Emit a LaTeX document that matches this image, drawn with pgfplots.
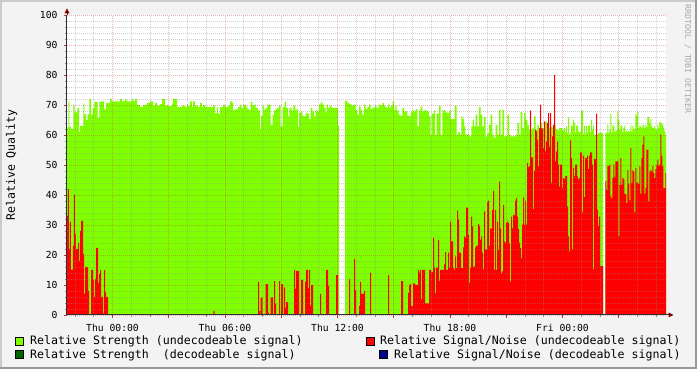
\documentclass[border=0pt]{standalone}
\usepackage{fontspec}
\setmainfont{DejaVu Sans Mono}
\usepackage{pgfplots}
\pgfplotsset{compat=1.18}
\definecolor{bgc}{HTML}{F3F3F3}
\definecolor{shadea}{HTML}{CBCBCB}
\definecolor{shadeb}{HTML}{999999}
\definecolor{sgreen}{HTML}{80FF00}
\definecolor{sdgreen}{HTML}{006400}
\definecolor{sred}{HTML}{FF0000}
\definecolor{sblue}{HTML}{000090}
\definecolor{gridc}{HTML}{8C8C8C}
\definecolor{mgridc}{HTML}{C03030}
\definecolor{axisc}{HTML}{303038}
\definecolor{arrowc}{HTML}{800000}
\definecolor{wmc}{HTML}{A8A8A8}
\newcommand\legfont{\fontsize{11.6}{12}\selectfont}
\begin{document}
\begin{tikzpicture}
\fill[bgc] (0pt,0pt) rectangle (697pt,369pt);
\fill[shadea] (0pt,367pt) rectangle (697pt,369pt);
\fill[shadea] (0pt,0pt) rectangle (2pt,369pt);
\fill[shadeb] (0pt,0pt) rectangle (697pt,2pt);
\fill[shadeb] (695pt,0pt) rectangle (697pt,369pt);
\begin{axis}[
  at={(67pt,54pt)}, anchor=south west, scale only axis,
  width=599pt, height=300pt,
  xmin=67, xmax=666, ymin=0, ymax=100,
  axis background/.style={fill=white},
  axis on top,
  axis x line*=bottom, axis y line*=left,
  axis line style={draw=axisc, line width=1pt},
  tick align=outside,
  major tick length=3pt, minor tick length=2pt,
  xtick={112.5,168.75,225,281.25,337.5,393.75,450,506.25,562.5,618.75},
  xticklabels={{Thu 00:00},{},{Thu 06:00},{},{Thu 12:00},{},{Thu 18:00},{},{Fri 00:00},{}},
  minor xtick={75,93.75,131.25,150,187.5,206.25,243.75,262.5,300,318.75,356.25,375,412.5,431.25,468.75,487.5,525,543.75,581.25,600,637.5,656.25},
  ytick={0,10,...,100},
  minor ytick={2,4,6,8,12,14,16,18,22,24,26,28,32,34,36,38,42,44,46,48,52,54,56,58,62,64,66,68,72,74,76,78,82,84,86,88,92,94,96,98},
  grid=both,
  major grid style={draw=mgridc, draw opacity=0.35, line width=0.75pt, dash pattern=on 1pt off 1pt},
  minor grid style={draw=gridc, draw opacity=0.4, line width=0.75pt, dash pattern=on 1pt off 1pt},
  major tick style={draw=mgridc, line width=0.8pt},
  minor tick style={draw=gridc, line width=0.8pt},
  tick label style={font=\fontsize{9.7}{10}\selectfont, text=black},
  /pgf/number format/assume math mode=true,
  xticklabel style={yshift=-3pt},
  yticklabel style={xshift=-3pt},
]
% Relative Strength (undecodeable) - green
\addplot[fill=sgreen, draw=none, const plot] coordinates {
(67,62.5) (68.3,71.2) (69.3,62.8) (71,62) (73.3,70) (74.7,67.5) (77.3,69) (79,61) (80,63) (83.3,70.4) (84.3,66.9) (86,65) (87.7,66.9) (89.3,72) (91,66.7) (92.7,69) (94.3,71) (97.7,65.7) (99.3,71) (101,71.2) (104,68.5) (106,70.7) (110,72) (111.7,71.2) (120,72) (122,71.2) (125,71.8) (127,71.2) (132,72) (133,71.4) (135,72) (137,70) (140,69.3) (143,70) (147,70.7) (150,71.2) (153,69.8) (155,70.7) (157,69.8) (160,70.3) (162,72) (165,69.8) (167,70) (168,69.6) (172,70.5) (173,72) (177,69.3) (182,69.8) (185,69.3) (187,70.3) (188,69.6) (190,71.2) (192,69.3) (193,71.2) (195,69.8) (198,69.3) (200,70.7) (202,69.3) (203,70) (205,69.3) (213,69.8) (215,67.3) (217,69.3) (218,67) (220,69.3) (223,70) (225,69.3) (228,69.8) (230,71.2) (232,70.7) (233,68.3) (235,68.5) (238,69.3) (240,70.1) (241.3,69) (243.3,70.1) (245.7,69.5) (247.3,68.6) (249,68.2) (250.7,71) (252.3,69.9) (254,70.1) (255.7,69) (258,68.2) (260,62) (261,66.4) (262.7,69.8) (264,68.4) (265.7,69) (267.3,70.1) (270.7,63.4) (272.7,66.8) (274,68.2) (275.7,68.6) (277.3,69) (279,69.8) (280.7,62.9) (282.7,69.3) (284.7,71) (286,69) (288,66.2) (289.3,69) (291.3,68.2) (293.3,69.8) (295.3,68.2) (296.7,68.6) (298,62.6) (299,67.3) (300.7,67.9) (302.3,66.4) (304,66.2) (305.7,67.3) (307.3,67.1) (309,65.3) (310.7,69) (312.3,67.9) (314,66.2) (315.7,68.2) (317.3,67.9) (319,70.1) (320.7,70.9) (322.3,70.1) (324,69) (325.7,67.5) (326.7,70.1) (328,69) (329.7,69.8) (331.7,69) (338,63) (339,63)
} \closedcycle;
\addplot[fill=sgreen, draw=none, const plot] coordinates {
(345,71.4) (347.3,70.6) (349.3,70.3) (351.3,69.8) (353.3,70.1) (355.7,68.4) (357.3,66.8) (359,69.5) (360.7,68.4) (362.3,66.8) (364,70.1) (365.7,68.6) (367.3,69.3) (369,70.1) (370.7,68.6) (372.3,69) (374.7,69.8) (376.7,69) (378.7,70.1) (380.7,69.8) (382.3,70.6) (384,69.8) (385.3,69.3) (386.7,69) (388,70.1) (389.3,69) (390.7,69.8) (392.7,71.2) (394,68.4) (395.3,69.8) (396.7,68.2) (398.7,66.8) (400.7,66.4) (402.3,69) (404,67.9) (407.3,66.4) (409,66.2) (410.7,67.5) (412.3,68.2) (414,67.9) (415.7,68.6) (417.3,62.9) (419,68.2) (420.7,69.5) (422.3,67.9) (424,68.2) (427.3,67.9) (429,66.2) (430.7,60) (431.7,67.1) (434,68.2) (435,60) (436.7,67.1) (439,69.8) (440.7,60) (442.3,68.2) (444,68.4) (445.3,67.5) (447.3,67.3) (449,68.2) (450.7,65.3) (454.7,69.8) (456.7,60) (458,60.9) (460,60) (461.3,66.2) (462.7,65.3) (464,62.9) (465.3,60.1) (467.3,60.3) (469.3,59.5) (471.3,62.9) (472.7,65.1) (474,62.9) (475.7,66.8) (477.3,62.9) (479,69.3) (480.7,66.8) (482.3,62.9) (484,66) (485.7,59.5) (487.3,60.7) (489,63.4) (490.7,66.8) (492.3,60.1) (494,59) (495.7,63.4) (497.3,60.1) (499,68.4) (500.7,60.1) (502.3,68.4) (504,59.5) (507.3,66.8) (509,60.1) (510.7,59.5) (515.7,60.1) (517.3,64) (519,60.1) (520.7,67.6) (522.3,62.3) (524,67.3) (525.7,65.1) (527.3,63.4) (529,61.8) (532.3,62.3) (534,66.2) (535.7,61.8) (537.3,63.4) (539,62) (540.7,64) (542.3,62.3) (544,64) (545.7,64.5) (547.3,63.4) (549,62.3) (550.7,62.6) (552.3,62.3) (554,63.4) (555.7,62) (557.3,61.5) (559,62.3) (562.3,61.5) (564,62.3) (565,61.2) (566,62.9) (567,60.7) (568,65.9) (569,60.1) (570,60.7) (571,63.1) (573,65.1) (574,64) (575,60.9) (576,63.1) (578,61.2) (579,60.9) (580,61.2) (581,68.1) (583,60.4) (584,63.1) (585,60.4) (586,63.1) (587,60.9) (588,63.1) (590,60.9) (591,65.1) (592,61.8) (593,63.1) (594,60.1) (598,60.7) (600,60.9) (601,60.7) (603,60.7)
} \closedcycle;
\addplot[fill=sgreen, draw=none, const plot] coordinates {
(605.3,60.7) (607.3,63.4) (608.3,60.7) (609.3,61.8) (610.3,67.1) (611.3,60.7) (612.3,63.1) (614.3,61.2) (616.3,61.8) (617.3,68.1) (618.3,65.1) (619.3,61.8) (620.3,63.1) (622.3,60.9) (623.3,62.3) (624.3,63.1) (625.3,60.9) (626.3,61.5) (627.3,61.2) (630.3,63.1) (631.3,61.2) (632.3,63.1) (633.3,62) (635.3,67) (636.3,66.4) (637.3,67.6) (638.3,62.3) (639.3,63.1) (640.3,62.9) (641.3,62.3) (642.3,63.4) (643.3,63.1) (644.3,62.3) (645.3,63.4) (646.3,62.6) (647.3,66) (649.3,63.8) (650.3,65.3) (651.3,62.9) (652.3,62.3) (654.3,63.1) (655.3,62) (656.3,61.8) (657.3,63.4) (658.3,62.3) (659.3,64.5) (660.3,64) (662.3,63.4) (663.3,62.3) (664.3,61.2) (665.3,60) (666,60)
} \closedcycle;
% Relative Signal/Noise (undecodeable) - red
\addplot[fill=sred, draw=none, const plot] coordinates {
(67,33) (68,42) (69,22) (70,31) (71,15) (73,23) (74,40) (75,27) (76,22) (78,24) (79,18) (80,28) (81,31.4) (83,20.4) (84,7) (85,16) (88,8) (89,0) (91,15) (93,11.7) (94,6) (95,12) (96,22.4) (98,10.6) (99,13.6) (100,15) (101,6) (103,0.5) (104,15) (105,7.5) (106,6) (108,0) (213.3,1.4) (214.7,0) (258,11.1) (259,1.3) (260,0) (260.7,5.8) (262.7,0) (265.7,10.3) (268,0.8) (269,0) (270.7,5.9) (273,0) (274,11.3) (275,3.9) (276,0) (279,11.3) (280,0) (281,10.3) (283,0) (284,9.2) (285,2.4) (286,4.3) (288,0) (294,15) (295,8.7) (296,14.7) (299,0) (301,11.7) (303,0) (305,11.1) (306,15) (308,8.9) (309,15) (310,3) (311,10) (313,0) (320,7) (321,0) (326,15) (328,9.7) (329,0) (336,13.3) (338,0) (349,12) (350,0) (354,18.7) (355,8.3) (356,0) (359,3) (360,11) (361,7) (364,8) (365,0) (370,14.1) (371,0) (388,13.3) (389,0) (401,11.3) (403,0) (408,7.4) (409,10) (410,10.3) (411,3) (413,10.5) (415,10) (418,15) (419,14.1) (420,15) (421,5.2) (422,15) (425,3.9) (427,3.9) (429,15) (431,14.4) (433,25.8) (434,15.8) (435,7.2) (436,15.8) (438,25) (439,11.4) (440,15) (444,16.9) (445,21) (446,15) (448,20.8) (449,15.6) (450,31.1) (451,24.5) (453,15.6) (454,15) (455,19.5) (456,15.6) (457,34.8) (458,31.9) (459,20.8) (461,15.6) (463,22.5) (464,26.2) (465,25.6) (466,35.8) (468,26.7) (469,10.8) (470,15.8) (471,32.8) (472,29.5) (473,16.1) (475,22.5) (476,23.1) (478,30.4) (479,29.5) (480,25) (481,26.2) (482,20.8) (483,15.2) (484,34.5) (485,21.9) (487,37.6) (488,38.1) (489,23) (490,28.9) (492,35) (493,41.4) (494,15) (495,35) (496,15) (497,31) (498,21.7) (499,44.5) (500,28.9) (501,13.9) (502,14.5) (503,36.7) (504,24.5) (505,24.1) (506,30.6) (507,31.2) (508,30.6) (509,23.9) (510,11.1) (511,32.8) (512,28.9) (513,33.4) (514,33.2) (515,38.1) (516,39) (517,32.8) (518,28.6) (519,24.1) (520,22.3) (521,18.9) (522,30.1) (523,39.2) (524,30.1) (525,38.1) (526,30.1) (527,50.6) (528,49.3) (529,49.5) (530,68.1) (531,52.5) (533,35.3) (534,48.1) (535,61.8) (536,61.2) (537,58.4) (538,49.5) (539,62.3) (540,70.1) (541,62.3) (542,62) (543,55.6) (544,64.5) (545,54.5) (546,57.9) (547,64) (548,67.3) (549,56.2) (550,67.3) (551,44) (552,59.5) (553,63.4) (554,80) (555,51.2) (556,54.5) (557,57.9) (558,50.1) (559,42.8) (560,50.1) (562,42.3) (563,45.6) (564,45.3) (565,46.4) (567,36.2) (568,26.2) (569,21.2) (570,58.2) (571,52.3) (572,21.9) (573,49) (574,46.2) (575,50.1) (577,46.2) (578,45.1) (579,45.6) (580,54.2) (582,34.2) (583,53.1) (584,39.3) (585,52.3) (587,53.1) (588,48.6) (589,53.1) (590,54.2) (592,50.1) (593,15.2) (594,52) (596,67.1) (597,35) (598,29.7) (599,32.8) (600,16.4) (603,16.4)
} \closedcycle;
\addplot[fill=sred, draw=none, const plot] coordinates {
(605.3,44.7) (606.3,41.7) (607.3,49.7) (609.3,50.1) (610.3,39.5) (611.3,38.9) (612.3,45.6) (613.3,50.1) (614.3,46) (615.3,51.2) (618.3,26.2) (619.3,43.4) (620.3,52.3) (621.3,43.4) (622.3,45.6) (623.3,45.3) (624.3,40.4) (626.3,37.3) (627.3,48.4) (628.3,43.7) (629.3,38.2) (630.3,55.6) (631.3,44) (632.3,48.2) (633.3,47.9) (634.3,34.2) (635.3,49) (636.3,44) (637.3,44.2) (638.3,43.7) (639.3,49.5) (640.3,40.4) (641.3,52.3) (642.3,56.8) (643.3,59.5) (644.3,40.4) (645.3,42.3) (646.3,55.1) (648.3,37.8) (649.3,47.9) (650.3,48.4) (651.3,47.9) (652.3,49.7) (653.3,47.3) (654.3,45.6) (655.3,48.6) (656.3,50.1) (657.3,51.8) (658.3,49.7) (659.3,50.1) (660.3,60.1) (661.3,53.1) (662.3,49.5) (663.3,42.3) (665.3,47.3) (666,47.3)
} \closedcycle;
\end{axis}
% axis extensions and arrows
\draw[axisc, line width=1pt] (666pt,54pt) -- (669pt,54pt);
\draw[axisc, line width=1pt] (67pt,354pt) -- (67pt,357pt);
\fill[arrowc] (668.5pt,51.5pt) -- (673.5pt,54pt) -- (668.5pt,56.5pt) -- cycle;
\fill[arrowc] (64.5pt,355.7pt) -- (67pt,360.7pt) -- (69.5pt,355.7pt) -- cycle;
% y label
\node[rotate=90, anchor=base, inner sep=0pt, font=\legfont] at (15pt,204pt) {Relative Quality};
% watermark
\node[rotate=-90, anchor=base, inner sep=0pt, font=\fontsize{8.2}{9}\selectfont, text=wmc] at (685pt,310pt) {RRDTOOL / TOBI OETIKER};
% legend
\filldraw[fill=sgreen, draw=black, line width=1pt] (15.5pt,23.8pt) rectangle (23.5pt,31.8pt);
\node[anchor=base west, inner sep=0pt, font=\legfont] at (30pt,24pt) {Relative Strength (undecodeable signal)};
\filldraw[fill=sdgreen, draw=black, line width=1pt] (15.5pt,10.5pt) rectangle (23.5pt,18.5pt);
\node[anchor=base west, inner sep=0pt, font=\legfont] at (30pt,10pt) {Relative Strength\ \ (decodeable signal)};
\filldraw[fill=sred, draw=black, line width=1pt] (366.5pt,23.8pt) rectangle (374.5pt,31.8pt);
\node[anchor=base west, inner sep=0pt, font=\legfont] at (380pt,24pt) {Relative Signal/Noise (undecodeable signal)};
\filldraw[fill=sblue, draw=black, line width=1pt] (379.8pt,10.5pt) rectangle (387.8pt,18.5pt);
\node[anchor=base west, inner sep=0pt, font=\legfont] at (394pt,10pt) {Relative Signal/Noise (decodeable signal)};
\end{tikzpicture}
\end{document}
